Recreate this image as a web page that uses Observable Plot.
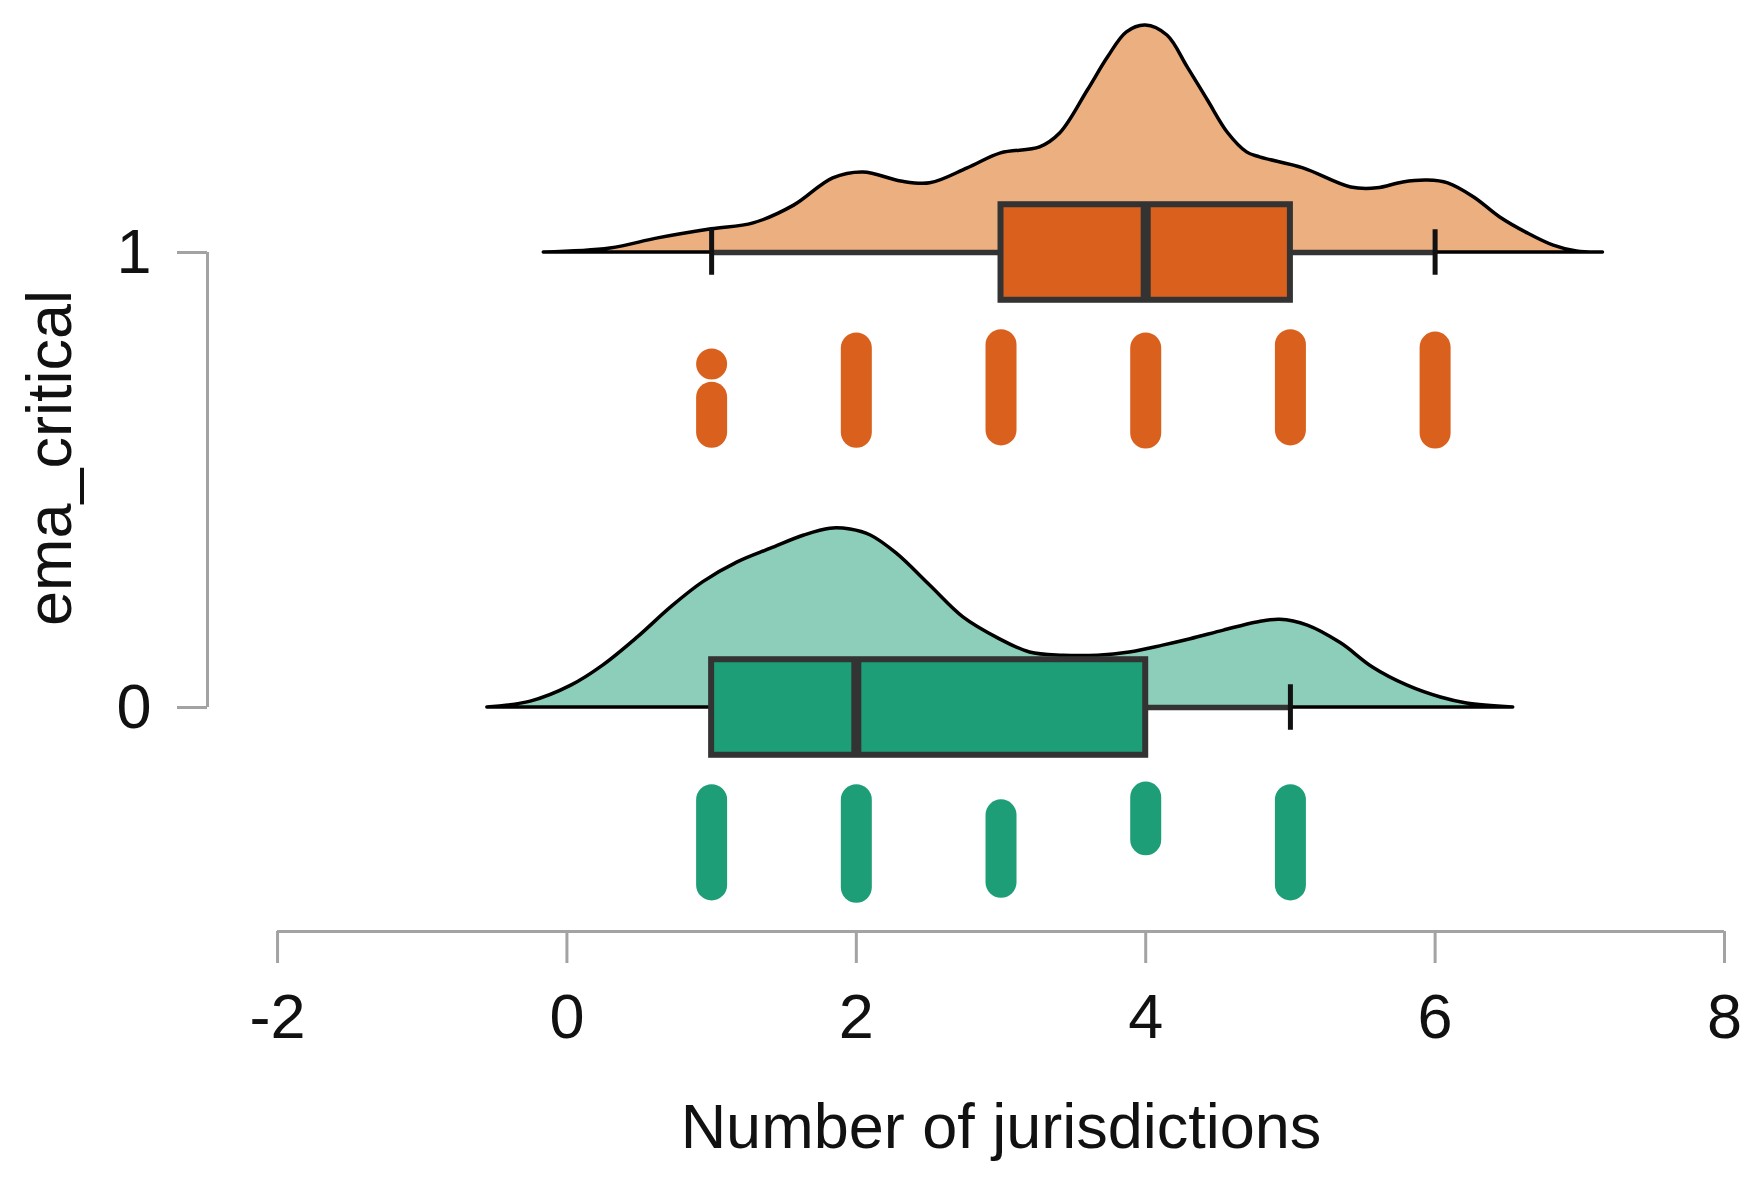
<!DOCTYPE html>
<html>
<head>
<meta charset="utf-8">
<script src="https://cdn.jsdelivr.net/npm/d3@7"></script>
<script src="https://cdn.jsdelivr.net/npm/@observablehq/plot@0.6"></script>
<style>
  html, body { margin: 0; padding: 0; background: #fff; }
  #chart svg { display: block; }
</style>
</head>
<body>
<div id="chart"></div>
<script>
// ---- categories / labels ----
const groups = [1, 0];
const xTicks = [-2, 0, 2, 4, 6, 8];
const yTicks = [0, 1];
const xTitle = "Number of jurisdictions";
const yTitle = "ema_critical";

// ---- density curves (value, density) ----
const densX1 = [-0.16, 0.30, 0.63, 1.00, 1.29, 1.57, 1.84, 2.05, 2.31, 2.51, 2.77, 3.00, 3.27, 3.41, 3.60, 3.74, 3.87, 4.00, 4.15, 4.29, 4.43, 4.57, 4.70, 4.79, 5.09, 5.42, 5.60, 5.78, 5.95, 6.09, 6.27, 6.45, 6.64, 6.82, 6.98, 7.16];
const densY1 = [0, 0.009, 0.031, 0.051, 0.064, 0.103, 0.163, 0.176, 0.156, 0.152, 0.185, 0.218, 0.231, 0.262, 0.356, 0.429, 0.484, 0.499, 0.477, 0.407, 0.334, 0.262, 0.220, 0.209, 0.185, 0.143, 0.141, 0.154, 0.158, 0.152, 0.121, 0.077, 0.042, 0.015, 0.002, 0];
const densX0 = [-0.55, -0.25, 0.03, 0.25, 0.49, 0.72, 0.94, 1.18, 1.41, 1.64, 1.82, 1.96, 2.10, 2.28, 2.51, 2.74, 2.98, 3.20, 3.43, 3.67, 3.89, 4.12, 4.31, 4.54, 4.77, 4.93, 5.12, 5.35, 5.57, 5.81, 6.04, 6.22, 6.54];
const densY0 = [0, 0.013, 0.048, 0.092, 0.154, 0.220, 0.275, 0.319, 0.349, 0.378, 0.393, 0.391, 0.378, 0.338, 0.268, 0.198, 0.152, 0.121, 0.114, 0.114, 0.121, 0.136, 0.150, 0.169, 0.187, 0.193, 0.180, 0.141, 0.088, 0.048, 0.022, 0.009, 0];

// ---- box plot statistics (per group, same order as groups) ----
const boxMin    = [1, 1];
const boxQ1     = [3, 1];
const boxMedian = [4, 2];
const boxQ3     = [5, 4];
const boxMax    = [6, 5];

// ---- jittered raw points: each stack spans y from top to bottom ----
const dotGroup  = [1, 1, 1, 1, 1, 1, 1, 0, 0, 0, 0, 0];
const dotValue  = [1, 1, 2, 3, 4, 5, 6, 1, 2, 3, 4, 5];
const dotTop    = [0.754, 0.681, 0.789, 0.796, 0.789, 0.796, 0.791, -0.204, -0.204, -0.237, -0.198, -0.204];
const dotBottom = [0.754, 0.604, 0.604, 0.609, 0.602, 0.609, 0.602, -0.391, -0.396, -0.385, -0.292, -0.391];

// ---- styling constants ----
const fillColor = {1: "#DA601E", 0: "#1D9E77"};
const densFill = {1: "#D95F02", 0: "#1B9E77"};
const axisGray = "#a3a3a3";
const textColor = "#111";
const boxHalf = 0.105;
const capHalf = 0.05;
const xDomain = [-2.484, 8];
const yDomain = [-0.4923, 1.5099];

// ---- build tables ----
const dens = [
  ...densX1.map((x, i) => ({group: 1, x, d: densY1[i]})),
  ...densX0.map((x, i) => ({group: 0, x, d: densY0[i]}))
];
const boxes = groups.map((g, i) => ({
  group: g, min: boxMin[i], q1: boxQ1[i], median: boxMedian[i], q3: boxQ3[i], max: boxMax[i]
}));
const caps = boxes.flatMap(b => [
  ...(b.min < b.q1 ? [{group: b.group, x: b.min}] : []),
  ...(b.max > b.q3 ? [{group: b.group, x: b.max}] : [])
]);
const dots = dotValue.map((v, i) => ({group: dotGroup[i], value: v, top: dotTop[i], bottom: dotBottom[i]}));

const chart = Plot.plot({
  width: 1759,
  height: 1192,
  marginLeft: 207,
  marginRight: 35,
  marginTop: 20,
  marginBottom: 261,
  x: {domain: xDomain},
  y: {domain: yDomain},
  style: {fontFamily: "'Liberation Sans', Arial, sans-serif", background: "#fff", overflow: "visible"},
  marks: [
    // densities
    ...groups.map(g => Plot.areaY(dens.filter(d => d.group === g), {
      x: "x", y1: "group", y2: d => d.group + d.d,
      fill: densFill[g], fillOpacity: 0.5,
      stroke: "#000", strokeWidth: 3.5, curve: "catmull-rom"
    })),
    // whiskers
    Plot.ruleY(boxes, {y: "group", x1: "min", x2: "max", stroke: "#333", strokeWidth: 5.5}),
    // boxes
    Plot.rect(boxes, {
      x1: "q1", x2: "q3", y1: d => d.group - boxHalf, y2: d => d.group + boxHalf,
      fill: d => fillColor[d.group], stroke: "#333", strokeWidth: 6
    }),
    // medians
    Plot.ruleX(boxes, {x: "median", y1: d => d.group - boxHalf, y2: d => d.group + boxHalf, stroke: "#333", strokeWidth: 10}),
    // whisker caps
    Plot.ruleX(caps, {x: "x", y1: d => d.group - capHalf, y2: d => d.group + capHalf, stroke: "#111", strokeWidth: 5}),
    // raw points
    Plot.ruleX(dots, {
      x: "value", y1: "top", y2: "bottom",
      stroke: d => fillColor[d.group], strokeWidth: 31, strokeLinecap: "round"
    }),
    // axes
    Plot.ruleY([yDomain[0]], {x1: xTicks[0], x2: xTicks[xTicks.length - 1], stroke: axisGray, strokeWidth: 3}),
    Plot.ruleX([xDomain[0]], {y1: yTicks[0], y2: yTicks[yTicks.length - 1], stroke: axisGray, strokeWidth: 3}),
    Plot.axisX(xTicks, {
      tickSize: 32, tickPadding: 30, fontSize: 63, stroke: axisGray, strokeWidth: 3,
      fill: textColor, tickFormat: d => String(d), label: null
    }),
    Plot.axisY(yTicks, {
      tickSize: 30, tickPadding: 26, fontSize: 63, stroke: axisGray, strokeWidth: 3,
      fill: textColor, tickFormat: d => String(d), label: null
    }),
    Plot.text([xTitle], {
      frameAnchor: "bottom", text: d => d, dx: 35, dy: 196, lineAnchor: "middle",
      textAnchor: "middle", fontSize: 63, fill: textColor
    }),
    Plot.text([yTitle], {
      frameAnchor: "left", text: d => d, rotate: -90, dx: -157, dy: -18, lineAnchor: "middle",
      textAnchor: "middle", fontSize: 63, fill: textColor
    })
  ]
});
document.getElementById("chart").appendChild(chart);
</script>
</body>
</html>
